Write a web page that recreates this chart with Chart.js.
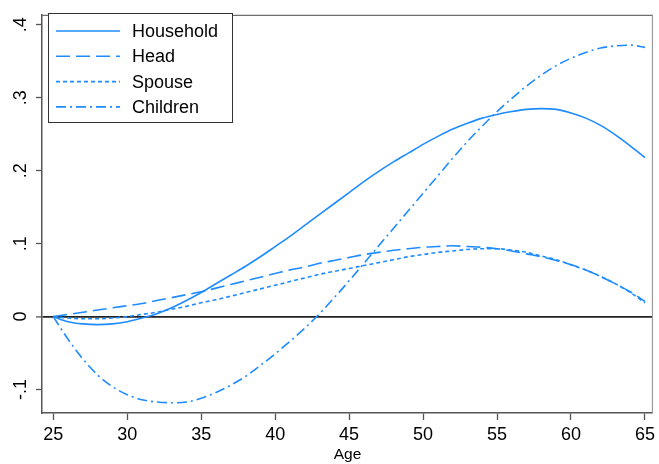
<!DOCTYPE html>
<html><head><meta charset="utf-8">
<script src="https://cdn.jsdelivr.net/npm/chart.js@4/dist/chart.umd.min.js"></script>
<style>html,body{margin:0;padding:0;background:#fff;}#wrap{width:659px;height:464px;position:relative;}</style>
</head><body><div id="wrap"><canvas id="c"></canvas></div>
<script>
const ages = [25,26,27,28,29,30,31,32,33,34,35,36,37,38,39,40,41,42,43,44,45,46,47,48,49,50,51,52,53,54,55,56,57,58,59,60,61,62,63,64,65];
const household = [0,-0.007,-0.010,-0.011,-0.010,-0.007,-0.002,0.004,0.012,0.022,0.033,0.045,0.057,0.069,0.082,0.096,0.110,0.125,0.140,0.155,0.170,0.185,0.199,0.212,0.224,0.236,0.247,0.257,0.265,0.272,0.277,0.281,0.284,0.285,0.284,0.279,0.272,0.262,0.249,0.234,0.218];
const head = [0,0.003,0.006,0.009,0.012,0.015,0.018,0.022,0.026,0.030,0.034,0.039,0.044,0.049,0.054,0.059,0.064,0.068,0.073,0.077,0.081,0.085,0.088,0.091,0.093,0.095,0.096,0.097,0.096,0.095,0.093,0.090,0.086,0.082,0.077,0.071,0.064,0.055,0.045,0.034,0.021];
const spouse = [0,-0.002,-0.003,-0.003,-0.002,0,0.003,0.006,0.010,0.014,0.019,0.023,0.028,0.033,0.038,0.043,0.048,0.053,0.058,0.062,0.066,0.070,0.074,0.078,0.082,0.085,0.088,0.090,0.092,0.093,0.093,0.091,0.088,0.083,0.078,0.071,0.064,0.055,0.045,0.033,0.019];
const children = [0,-0.031,-0.058,-0.080,-0.096,-0.107,-0.114,-0.117,-0.118,-0.117,-0.112,-0.104,-0.094,-0.082,-0.067,-0.051,-0.034,-0.016,0.004,0.026,0.049,0.073,0.097,0.121,0.145,0.169,0.193,0.217,0.240,0.261,0.281,0.299,0.316,0.331,0.344,0.354,0.362,0.368,0.371,0.372,0.369];
const seriesNames = ['Household','Head','Spouse','Children'];
const xTicks = [25,30,35,40,45,50,55,60,65];
const yTicks = [-0.1,0,0.1,0.2,0.3,0.4];
const yTickLabels = ['-.1','0','.1','.2','.3','.4'];
const xTitle = 'Age';

const BLUE = '#1E8CFF';
const FONT = '"Liberation Sans", Arial, sans-serif';
const pts = arr => ages.map((a,i)=>({x:a,y:arr[i]}));

const frame = {
  id:'frame',
  beforeDatasetsDraw(chart){
    const a = chart.chartArea, ctx = chart.ctx;
    ctx.save();
    ctx.lineWidth = 1.2;
    ctx.strokeStyle = '#6e6e6e';
    ctx.beginPath(); ctx.moveTo(a.left, a.top+0.5); ctx.lineTo(a.right, a.top+0.5); ctx.stroke();
    ctx.strokeStyle = '#9a9a9a';
    ctx.beginPath(); ctx.moveTo(a.right-0.5, a.top); ctx.lineTo(a.right-0.5, a.bottom); ctx.stroke();
    ctx.restore();
  }
};
const insideLegend = {
  id:'insideLegend',
  afterDraw(chart){
    const ctx = chart.ctx;
    const x0 = 48, y0 = 13, w = 184, h = 109;
    ctx.save();
    ctx.fillStyle = '#fff'; ctx.fillRect(x0,y0,w,h);
    ctx.strokeStyle = '#333'; ctx.lineWidth = 1; ctx.strokeRect(x0+0.5,y0+0.5,w,h);
    chart.data.datasets.forEach((ds,i)=>{
      const y = 31 + i*25.3;
      ctx.beginPath();
      ctx.setLineDash(ds.borderDash || []);
      ctx.strokeStyle = ds.borderColor; ctx.lineWidth = ds.borderWidth;
      ctx.moveTo(56,y); ctx.lineTo(120,y); ctx.stroke();
      ctx.setLineDash([]);
      ctx.fillStyle = '#000'; ctx.font = '18px ' + FONT; ctx.textBaseline = 'middle'; ctx.textAlign = 'left';
      ctx.fillText(ds.label, 132, y+1);
    });
    ctx.restore();
  }
};

const dashes = [[], [14,6], [4,3], [10,4,2,4]];
const seriesData = [household, head, spouse, children];

new Chart(document.getElementById('c'), {
  type:'line',
  data:{
    datasets: seriesData.map((d,i)=>({
      label: seriesNames[i], data: pts(d), borderColor: BLUE, backgroundColor: BLUE,
      borderWidth: 1.6, borderDash: dashes[i], pointRadius: 0, cubicInterpolationMode:'monotone', fill: false
    }))
  },
  options:{
    responsive:true, maintainAspectRatio:false, animation:false,
    layout:{padding:{top:7,right:2,left:0,bottom:0}},
    plugins:{legend:{display:false}, tooltip:{enabled:false}},
    scales:{
      x:{
        type:'linear', min:24.24, max:65.54,
        afterBuildTicks: s => { s.ticks = xTicks.map(v=>({value:v})); },
        afterFit: s => { s.height = 51; },
        ticks:{font:{family:FONT,size:18}, color:'#000', padding:4, maxRotation:0, minRotation:0, callback: v => String(v)},
        grid:{drawOnChartArea:false, tickLength:7, tickColor:'#555', tickWidth:1.3},
        border:{color:'#555', width:1.5},
        title:{display:true, text:xTitle, font:{family:FONT,size:15.5}, color:'#000', padding:{top:0,bottom:0}}
      },
      y:{
        type:'linear', min:-0.1321, max:0.4136,
        afterBuildTicks: s => { s.ticks = yTicks.map(v=>({value:v})); },
        afterFit: s => { s.width = 42; },
        ticks:{font:{family:FONT,size:18}, color:'#000', padding:4, minRotation:90, maxRotation:90, crossAlign:'center',
          callback: (v,i) => yTickLabels[i]},
        grid:{
          color: c => (c.tick && Math.abs(c.tick.value) < 1e-9) ? '#222' : 'rgba(0,0,0,0)',
          lineWidth: c => (c.tick && Math.abs(c.tick.value) < 1e-9) ? 1.8 : 1,
          tickLength:6, tickColor:'#555', tickWidth:1.3
        },
        border:{color:'#555', width:1.5}
      }
    }
  },
  plugins:[frame, insideLegend]
});
</script></body></html>
